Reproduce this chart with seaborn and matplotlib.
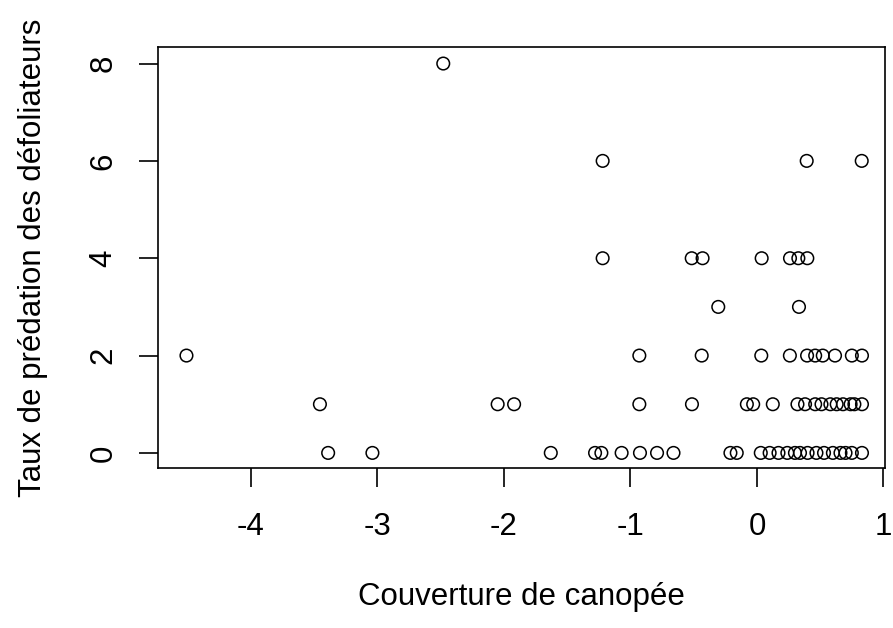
import matplotlib
matplotlib.use("Agg")
import matplotlib.pyplot as plt
import seaborn as sns
import pandas as pd

# Data
x_row8 = [-2.48]
x_row6 = [-1.22, 0.393, 0.828]
x_row4 = [-1.22, -0.516, -0.43, 0.037, 0.261, 0.327, 0.398]
x_row3 = [-0.306, 0.332]
x_row2 = [-4.51, -0.93, -0.437, 0.034, 0.26, 0.396, 0.46, 0.52, 0.617, 0.75, 0.83]
x_row1 = [-3.455, -2.05, -1.92, -0.93, -0.514, -0.08, -0.03, 0.125,
          0.32, 0.38, 0.46, 0.51, 0.58, 0.63, 0.68, 0.74, 0.77, 0.83]
x_row0 = [-3.39, -3.04, -1.63, -1.28, -1.23, -1.07, -0.925, -0.79, -0.66, -0.21, -0.16,
          0.03, 0.10, 0.17, 0.24, 0.30, 0.34, 0.40, 0.47, 0.53, 0.60, 0.66, 0.70, 0.75, 0.83]

xs, ys = [], []
for val, row in [(8, x_row8), (6, x_row6), (4, x_row4), (3, x_row3),
                 (2, x_row2), (1, x_row1), (0, x_row0)]:
    xs += row
    ys += [val] * len(row)
df = pd.DataFrame({"canopy": xs, "pred": ys})

x_ticks = [-4, -3, -2, -1, 0, 1]
y_ticks = [0, 2, 4, 6, 8]

sns.set_style("white")
plt.rcParams["font.family"] = ["Liberation Sans", "DejaVu Sans"]
plt.rcParams["text.color"] = "black"
plt.rcParams["axes.labelcolor"] = "black"
plt.rcParams["xtick.color"] = "black"
plt.rcParams["ytick.color"] = "black"

FS = 22.5
fig = plt.figure(figsize=(8.93, 6.28), dpi=100)
ax = fig.add_axes([158/893, 1-468/628, (885-158)/893, (468-47)/628])
sns.scatterplot(data=df, x="canopy", y="pred", ax=ax, marker="o", s=82,
                facecolors="none", edgecolor="black", linewidth=1.1)
ax.set_xlim(-4.735, 1.012)
ax.set_ylim(-0.31, 8.34)
ax.set_xticks(x_ticks)
ax.set_xticklabels([str(t) for t in x_ticks], fontsize=FS, color="black")
ax.set_yticks(y_ticks)
ax.set_yticklabels([str(t) for t in y_ticks], fontsize=FS, rotation=90, va="center",
                   color="black")
ax.tick_params(axis="both", direction="out", length=14, width=1.2, color="black",
               left=True, bottom=True)
ax.tick_params(axis="x", pad=17.8)
ax.tick_params(axis="y", pad=14.4)
for s in ax.spines.values():
    s.set_visible(True)
    s.set_color("black")
    s.set_linewidth(1.2)
ax.set_xlabel("Couverture de canopée", fontsize=FS, labelpad=28.8, color="black")
ax.set_ylabel("Taux de prédation des défoliateurs", fontsize=FS, labelpad=29,
              color="black")
fig.savefig("out.png", dpi=100)
